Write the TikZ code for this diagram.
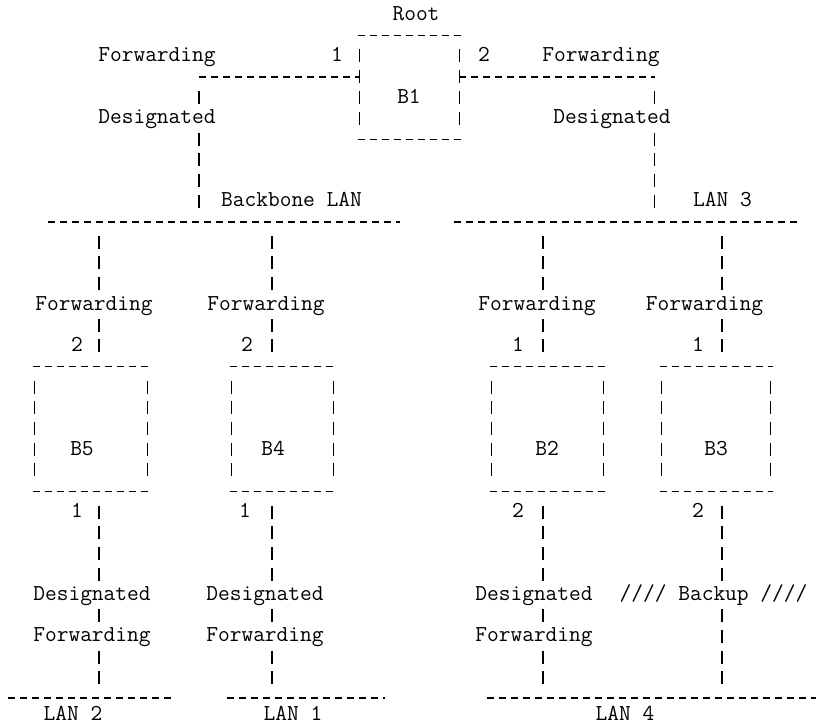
\documentclass[tikz,border=0pt]{standalone}
\usepackage{fontspec}
\tikzset{
  hline/.style={line width=0.6pt,dash pattern=on 3.5pt off 2.5pt},
  vline/.style={line width=0.6pt,dash pattern=on 6.5pt off 3.85pt,shorten <=7.1pt,shorten >=7.1pt},
  bridge/.style={minimum height=62.1pt,inner sep=0pt},
  txt/.style={fill=white,inner sep=0.5pt,text height=7pt,text depth=1.5pt},
  lanlbl/.style={txt,text depth=0pt}
}
\begin{document}
\begin{tikzpicture}[x=0.5pt,y=-0.5pt,font=\fontsize{11.4}{13}\selectfont\ttfamily]
\useasboundingbox (0,0) rectangle (816,726);
\node[bridge,minimum width=49.5pt,minimum height=51.75pt](b1)at(409.5,87.45){};
\node[bridge,minimum width=56pt](b5)at(91,429){};
\node[bridge,minimum width=50.5pt](b4)at(282.5,429){};
\node[bridge,minimum width=55.5pt](b2)at(547.5,429){};
\node[bridge,minimum width=54pt](b3)at(716,429){};
\foreach \b in {b1,b2,b3,b4,b5}{
  \draw[hline]([xshift=-1pt]\b.north west)--([xshift=1.5pt]\b.north east)([xshift=-1pt]\b.south west)--([xshift=1.5pt]\b.south east);
  \draw[vline](\b.north west)--(\b.south west);
  \draw[vline](\b.north east)--(\b.south east);
}
\coordinate(bbw)at(48,222);\coordinate(bbe)at(400,222);
\coordinate(lan3w)at(454,222);\coordinate(lan3e)at(800,222);
\coordinate(lan2w)at(8,698.1);\coordinate(lan2e)at(173,698.1);
\coordinate(lan1w)at(227,698.1);\coordinate(lan1e)at(385,698.1);
\coordinate(lan4w)at(487,698.1);\coordinate(lan4e)at(816,698.1);
\draw[hline](bbw)--(bbe);
\draw[hline](lan3w)--(lan3e);
\draw[hline](lan2w)--(lan2e);
\draw[hline](lan1w)--(lan1e);
\draw[hline](lan4w)--(lan4e);
\coordinate(p1)at(199,77.1);\coordinate(p2)at(654.5,77.1);
\draw[hline](p1)--(p1-|b1.west);
\draw[hline](p2-|b1.east)--(p2);
\draw[vline](p1)--(p1|-bbw);
\draw[vline](p2)--(p2|-lan3w);
\foreach \x/\b in {99/b5,272/b4,543/b2,722/b3}{
  \draw[vline](\b.north-|\x,0)--(\x,222);
  \draw[vline](\b.south-|\x,0)--(\x,698.1);
}
\node[txt](rootl)at(416,15){Root};
\node[txt](fwa)at(157,56.4){Forwarding};
\node[txt](pa)at(337,56.4){1};
\node[txt](pb)at(484,56.4){2};
\node[txt](fwb)at(601,56.4){Forwarding};
\node[txt](desa)at(157,118.5){Designated};
\node[txt](desb)at(612,118.5){Designated};
\node[txt](b1n)at(409,97.8){B1};
\node[txt](bbl)at(291.5,201.3){Backbone LAN};
\node[txt](lan3l)at(722.5,201.3){LAN 3};
\foreach \x/\n in {94/fw5,266/fw4,537/fw2,704.5/fw3}
  \node[txt](\n)at(\x,304.8){Forwarding};
\foreach \x/\n/\p in {77/pt5/2,247/pt4/2,518/pt2/1,698/pt3/1}
  \node[txt](\n)at(\x,346.2){\p};
\foreach \x/\n in {82/B5,273/B4,547/B2,716/B3}
  \node[txt](\n n)at(\x,449.7){\n};
\foreach \x/\n/\p in {77/pb5/1,245/pb4/1,518/pb2/2,698/pb3/2}
  \node[txt](\n)at(\x,511.8){\p};
\foreach \x/\n in {92/des5,265/des4,534/des2}
  \node[txt](\n)at(\x,594.6){Designated};
\node[txt](bkp3)at(713.5,594.6){//// Backup ////};
\foreach \x/\n in {92/fwd5,265/fwd4,534/fwd2}
  \node[txt](\n)at(\x,636){Forwarding};
\node[lanlbl](lan2l)at(73,713.5){LAN 2};
\node[lanlbl](lan1l)at(293,713.5){LAN 1};
\node[lanlbl](lan4l)at(625,713.5){LAN 4};
\end{tikzpicture}
\end{document}
